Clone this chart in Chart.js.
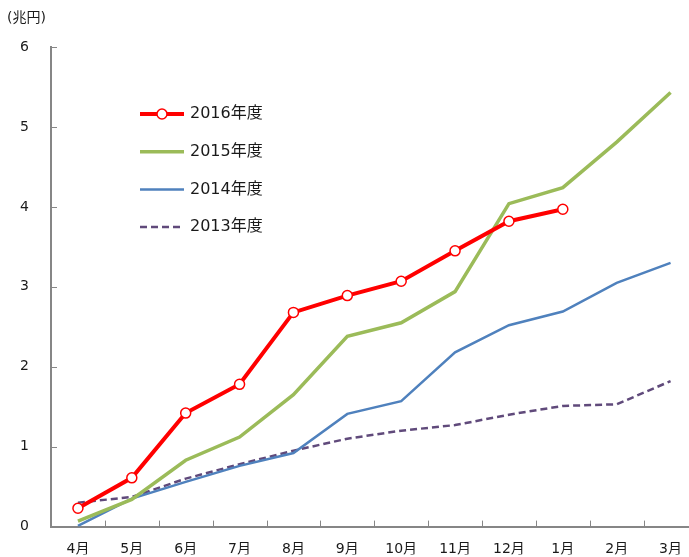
<!DOCTYPE html>
<html>
<head>
<meta charset="utf-8">
<script src="https://cdn.jsdelivr.net/npm/chart.js@4"></script>
<style>
  html, body { margin: 0; padding: 0; overflow: hidden; background: #fff; }
  #wrap { width: 704px; height: 557px; position: relative; }
</style>
</head>
<body>
<div id="wrap"><canvas id="grafico"></canvas></div>
<script>
const meses = ['4月', '5月', '6月', '7月', '8月', '9月', '10月', '11月', '12月', '1月', '2月', '3月'];
const fy2016 = [0.23, 0.61, 1.42, 1.78, 2.68, 2.89, 3.07, 3.45, 3.82, 3.97];
const fy2015 = [0.07, 0.34, 0.83, 1.12, 1.65, 2.38, 2.55, 2.94, 4.04, 4.24, 4.81, 5.43];
const fy2014 = [0.01, 0.35, 0.56, 0.76, 0.92, 1.41, 1.57, 2.18, 2.52, 2.69, 3.05, 3.30];
const fy2013 = [0.30, 0.37, 0.60, 0.78, 0.95, 1.10, 1.20, 1.27, 1.40, 1.51, 1.53, 1.82];
const yTicks = [0, 1, 2, 3, 4, 5, 6];
const unidade = '(兆円)';

const fonte = "'DejaVu Sans', 'Noto Sans CJK JP', sans-serif";
const cinza = '#868686';

const series = [
    { label: '2016年度', data: fy2016, color: '#ff0000', width: 4, dash: [], marker: true },
    { label: '2015年度', data: fy2015, color: '#9bbb59', width: 3.5, dash: [], marker: false },
    { label: '2014年度', data: fy2014, color: '#4f81bd', width: 2.5, dash: [], marker: false },
    { label: '2013年度', data: fy2013, color: '#604a7b', width: 2.5, dash: [7, 4], marker: false }
];

// tick marks inside the axes + unit label + legend
const extras = {
    id: 'extras',
    afterDraw(chart) {
        const ctx = chart.ctx;
        const area = chart.chartArea;
        const y = chart.scales.y;
        ctx.save();
        ctx.strokeStyle = cinza;
        ctx.lineWidth = 1;
        yTicks.forEach(v => {
            if (v === 0) return;
            const py = Math.round(y.getPixelForValue(v)) + 0.5;
            ctx.beginPath();
            ctx.moveTo(area.left, py);
            ctx.lineTo(area.left + 6, py);
            ctx.stroke();
        });
        const w = (area.right - area.left) / meses.length;
        for (let i = 1; i < meses.length; i++) {
            const px = Math.round(area.left + i * w) + 0.5;
            ctx.beginPath();
            ctx.moveTo(px, area.bottom);
            ctx.lineTo(px, area.bottom - 6);
            ctx.stroke();
        }

        ctx.fillStyle = '#1a1a1a';
        ctx.font = '14px ' + fonte;
        ctx.textBaseline = 'middle';
        ctx.textAlign = 'left';
        ctx.fillText(unidade, 7, 18);

        // legend
        ctx.font = '16px ' + fonte;
        series.forEach((s, i) => {
            const ly = 114 + i * 37.7;
            ctx.strokeStyle = s.color;
            ctx.lineWidth = s.width;
            ctx.setLineDash(s.dash);
            ctx.beginPath();
            ctx.moveTo(140, ly);
            ctx.lineTo(184, ly);
            ctx.stroke();
            ctx.setLineDash([]);
            if (s.marker) {
                ctx.beginPath();
                ctx.arc(162, ly, 5, 0, Math.PI * 2);
                ctx.fillStyle = '#fff';
                ctx.fill();
                ctx.lineWidth = 1.5;
                ctx.stroke();
            }
            ctx.fillStyle = '#1a1a1a';
            ctx.fillText(s.label, 190, ly);
        });
        ctx.restore();
    }
};

window.addEventListener('DOMContentLoaded', () => {
    const ctx = document.getElementById('grafico').getContext('2d');
    new Chart(ctx, {
        type: 'line',
        data: {
            labels: meses,
            datasets: series.map(s => ({
                label: s.label,
                data: s.data,
                borderColor: s.color,
                borderWidth: s.width,
                borderDash: s.dash,
                tension: 0,
                fill: false,
                pointRadius: s.marker ? 5 : 0,
                pointHoverRadius: s.marker ? 5 : 0,
                pointBackgroundColor: '#fff',
                pointBorderColor: s.color,
                pointBorderWidth: 1.5
            }))
        },
        options: {
            responsive: true,
            maintainAspectRatio: false,
            animation: false,
            layout: { padding: { left: 0, top: 47, right: 1, bottom: 0 } },
            plugins: {
                legend: { display: false },
                tooltip: { enabled: false }
            },
            scales: {
                x: {
                    offset: true,
                    grid: { drawOnChartArea: false, drawTicks: false },
                    border: { color: cinza, width: 2 },
                    ticks: { color: '#1a1a1a', font: { family: fonte, size: 14 }, padding: 14, maxRotation: 0 },
                    afterFit(scale) { scale.height = 28; }
                },
                y: {
                    min: 0,
                    max: 6,
                    grid: { drawOnChartArea: false, drawTicks: false },
                    border: { color: cinza, width: 2 },
                    ticks: { stepSize: 1, color: '#1a1a1a', font: { family: fonte, size: 14 }, padding: 22 },
                    afterFit(scale) { scale.width = 51; }
                }
            }
        },
        plugins: [extras]
    });
});
</script>
</body>
</html>
